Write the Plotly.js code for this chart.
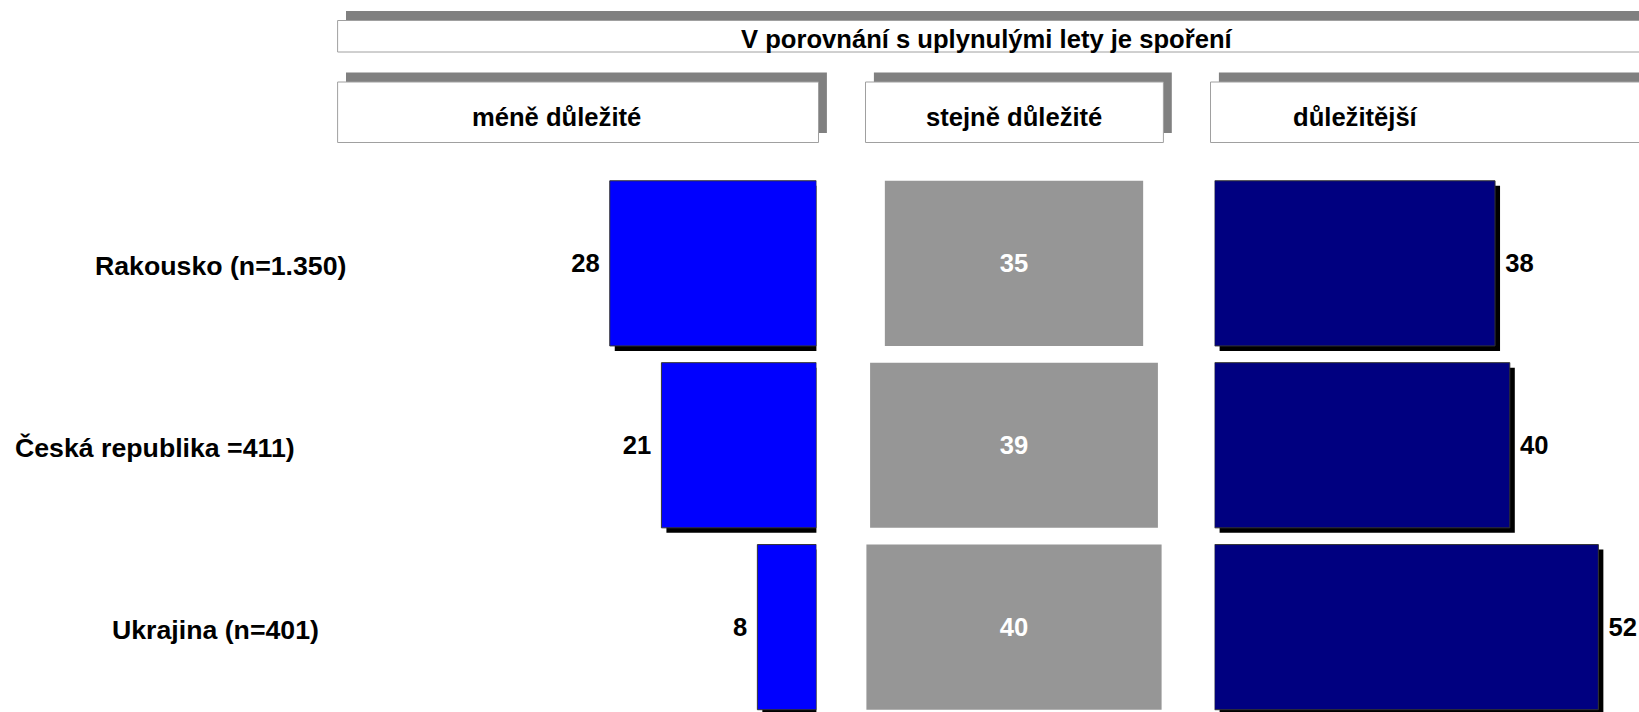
<!DOCTYPE html>
<html lang="cs">
<head>
    <meta charset="utf-8">
    <script src="https://cdn.plot.ly/plotly-3.0.1.min.js"></script>
    <title>Spoření</title>
    <style>
        html, body { margin: 0; padding: 0; background: #fff; }
        #divChart { width: 1639px; height: 712px; }
    </style>
</head>
<body>

<!-- graf začátek -->
<div id="divChart"></div>
<script>
    var countries = ['Rakousko (n=1.350)', 'Česká republika =411)', 'Ukrajina (n=401)'];
    var lessImportant = [28, 21, 8];
    var equallyImportant = [35, 39, 40];
    var moreImportant = [38, 40, 52];
    var groupTitle = 'V porovnání s uplynulými lety je spoření';
    var columnTitles = ['méně důležité', 'stejně důležité', 'důležitější'];

    // page geometry in pixels
    var W = 1639, H = 712;
    var pxPerUnit = 7.38;
    var rowPitch = 181.9;
    var plotTop = 172.4;
    function px(x) { return x / W; }
    function py(y) { return 1 - y / H; }

    var barW = 0.908;
    var shadowX = 5 / pxPerUnit;
    var shadowY = 5 / rowPitch;
    var family = 'Liberation Sans, Arial, sans-serif';
    var font = {family: family, size: 25.6, color: '#000', weight: 'bold'};
    var labelFont = {family: family, size: 26.7, color: '#000', weight: 'bold'};

    var blueShadow = {
        type: 'bar', orientation: 'h', xaxis: 'x', yaxis: 'y',
        y: countries, x: lessImportant, base: -shadowX,
        width: barW, offset: -barW / 2 + shadowY,
        marker: {color: '#000000'}, hoverinfo: 'skip'
    };
    var blue = {
        type: 'bar', orientation: 'h', xaxis: 'x', yaxis: 'y',
        y: countries, x: lessImportant, base: 0,
        width: barW, offset: -barW / 2,
        marker: {color: '#0000ff', line: {color: '#333333', width: 1}},
        text: lessImportant.map(function (v) { return v + '\u00a0'; }),
        textposition: 'outside', cliponaxis: false, constraintext: 'none',
        textfont: font
    };
    var gray = {
        type: 'bar', orientation: 'h', xaxis: 'x2', yaxis: 'y',
        y: countries, x: equallyImportant,
        base: equallyImportant.map(function (v) { return -v / 2; }),
        width: barW, offset: -barW / 2,
        marker: {color: '#969696', line: {width: 0}},
        text: equallyImportant.map(String),
        textposition: 'inside', insidetextanchor: 'middle', constraintext: 'none',
        textfont: {family: family, size: 25.6, color: '#ffffff', weight: 'bold'}
    };
    var navyShadow = {
        type: 'bar', orientation: 'h', xaxis: 'x3', yaxis: 'y',
        y: countries, x: moreImportant, base: shadowX,
        width: barW, offset: -barW / 2 + shadowY,
        marker: {color: '#000000'}, hoverinfo: 'skip'
    };
    var navy = {
        type: 'bar', orientation: 'h', xaxis: 'x3', yaxis: 'y',
        y: countries, x: moreImportant, base: 0,
        width: barW, offset: -barW / 2,
        marker: {color: '#000080', line: {color: '#333333', width: 1}},
        text: moreImportant.map(function (v) { return '\u00a0' + v; }),
        textposition: 'outside', cliponaxis: false, constraintext: 'none',
        textfont: font
    };

    // header boxes: white box with grey shadow behind, up and right
    var shapes = [];
    function box(x0, x1, y0, y1) {
        shapes.push({type: 'rect', xref: 'paper', yref: 'paper', layer: 'above',
            x0: px(x0 + 8.4), x1: px(x1 + 8.4), y0: py(y0 - 9.5), y1: py(y1 - 9.5),
            fillcolor: '#808080', line: {width: 0}});
        shapes.push({type: 'rect', xref: 'paper', yref: 'paper', layer: 'above',
            x0: px(x0), x1: px(x1), y0: py(y0), y1: py(y1),
            fillcolor: '#ffffff', line: {color: '#a0a0a0', width: 1}});
    }
    box(337.6, 1700, 20.5, 52);
    var colLeft = [337.6, 865.5, 1210.5];
    var colRight = [818.5, 1163.4, 1700];
    var colText = [556, 1014, 1355];
    for (var i = 0; i < 3; i++) box(colLeft[i], colRight[i], 82, 142.5);

    var annotations = [{
        text: groupTitle, xref: 'paper', yref: 'paper', x: px(987), y: py(39),
        xanchor: 'center', yanchor: 'middle', showarrow: false, font: font
    }];
    for (var i = 0; i < 3; i++) {
        annotations.push({
            text: columnTitles[i], xref: 'paper', yref: 'paper', x: px(colText[i]), y: py(116.5),
            xanchor: 'center', yanchor: 'middle', showarrow: false, font: font
        });
    }
    var labelCenters = [220, 154.5, 215];
    for (var i = 0; i < countries.length; i++) {
        annotations.push({
            text: countries[i], xref: 'paper', yref: 'y', x: px(labelCenters[i]), y: countries[i],
            xanchor: 'center', yanchor: 'middle', yshift: -3, showarrow: false, font: labelFont
        });
    }

    var hidden = {visible: false, showgrid: false, zeroline: false, fixedrange: true};
    var layout = {
        width: W, height: H,
        margin: {l: 0, r: 0, t: 0, b: 0, pad: 0},
        paper_bgcolor: '#ffffff', plot_bgcolor: '#ffffff',
        showlegend: false, barmode: 'overlay',
        xaxis: Object.assign({domain: [px(337.6), px(816.4)], range: [(816.4 - 337.6) / pxPerUnit, 0]}, hidden),
        xaxis2: Object.assign({domain: [px(840), px(1188)], range: [-(1014 - 840) / pxPerUnit, (1188 - 1014) / pxPerUnit]}, hidden),
        xaxis3: Object.assign({domain: [px(1214.6), 1], range: [0, (W - 1214.6) / pxPerUnit]}, hidden),
        yaxis: Object.assign({
            domain: [0, py(plotTop)], type: 'category',
            categoryorder: 'array', categoryarray: countries,
            range: [-0.5 + (H - plotTop) / rowPitch, -0.5]
        }, hidden),
        shapes: shapes,
        annotations: annotations
    };
    var config = {displayModeBar: false, staticPlot: true};
    Plotly.newPlot('divChart', [blueShadow, blue, gray, navyShadow, navy], layout, config);
</script>
<!-- graf konec -->
</body>
</html>
